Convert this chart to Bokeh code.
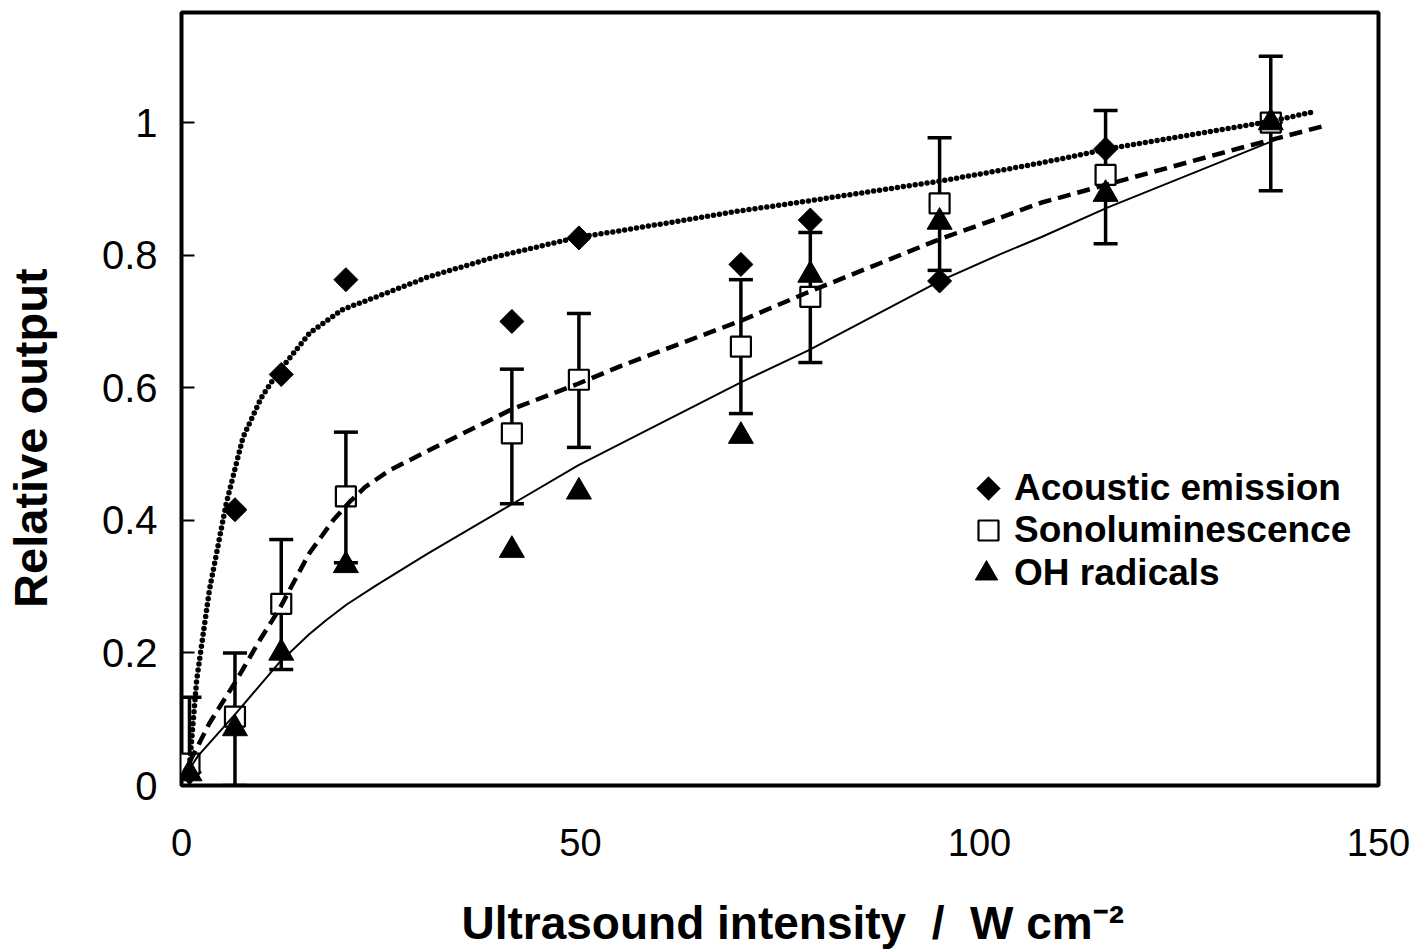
import math
from bokeh.plotting import figure
from bokeh.models import (Range1d, FixedTicker, Whisker, TeeHead, ColumnDataSource,
                          Legend, LegendItem, PolyAnnotation)
from bokeh.embed import file_html
from bokeh.resources import INLINE

# ---------------- data ----------------
intensity = [1.0, 6.7, 12.5, 20.6, 41.4, 49.8, 70.1, 78.8, 95.0, 115.8, 136.5]
acoustic = [0.02, 0.416, 0.62, 0.763, 0.700, 0.826, 0.786, 0.853, 0.761, 0.960, 1.000]
sonolum = [0.033, 0.104, 0.274, 0.436, 0.531, 0.612, 0.662, 0.737, 0.878, 0.921, 1.000]
sonolum_upper = [0.133, 0.200, 0.371, 0.533, 0.628, 0.712, 0.763, 0.834, 0.977, 1.018, 1.100]
sonolum_lower = [-0.02, 0.000, 0.175, 0.336, 0.425, 0.510, 0.561, 0.638, 0.777, 0.817, 0.897]
oh_radicals = [0.018, 0.086, 0.200, 0.332, 0.355, 0.443, 0.527, 0.770, 0.850, 0.892, 1.000]

# trend curves
ac_fit_x = [1.0, 1.9, 3.5, 5.6, 7.7, 10.0, 11.9, 16.1, 20.2, 24.4, 30.9, 39.2, 49.7,
            55.1, 70.1, 77.6, 95.2, 102.7, 107.7, 116.0, 136.6, 142.1]
ac_fit_y = [0.03, 0.159, 0.295, 0.425, 0.525, 0.585, 0.620, 0.683, 0.718, 0.737, 0.767,
            0.797, 0.827, 0.837, 0.867, 0.880, 0.912, 0.928, 0.939, 0.960, 1.002, 1.017]
so_fit_x = [1.0, 3.5, 6.9, 9.8, 12.3, 16.0, 19.0, 21.0, 23.0, 26.0, 30.9, 41.5, 49.7,
            55.1, 70.1, 78.5, 95.2, 102.7, 107.7, 116.1, 132.8, 142.9]
so_fit_y = [0.035, 0.094, 0.159, 0.219, 0.267, 0.350, 0.400, 0.427, 0.450, 0.475, 0.505,
            0.568, 0.606, 0.633, 0.701, 0.744, 0.825, 0.857, 0.879, 0.907, 0.962, 0.994]
oh_fit_x = [1.0, 2.1, 6.9, 12.3, 16.0, 18.2, 20.7, 24.4, 30.9, 41.5, 49.7, 55.1, 70.1,
            78.5, 95.2, 102.7, 107.7, 116.1, 137.1]
oh_fit_y = [0.025, 0.045, 0.110, 0.186, 0.228, 0.250, 0.273, 0.302, 0.350, 0.425, 0.483,
            0.516, 0.608, 0.656, 0.762, 0.802, 0.827, 0.872, 0.974]

x_ticks = [0, 50, 100, 150]
y_ticks = [0, 0.2, 0.4, 0.6, 0.8, 1]
y_tick_labels = ["0", "0.2", "0.4", "0.6", "0.8", "1"]

series_names = ["Acoustic emission", "Sonoluminescence", "OH radicals"]
NB = "\u00a0"
x_title = NB * 2 + "Ultrasound intensity" + NB * 2 + "/" + NB * 2 + "W cm\u207b\u00b2"
y_title = "Relative output" + NB * 6

FONT = "Liberation Sans"

# ---------------- figure ----------------
p = figure(width=1413, height=952, output_backend="svg", toolbar_location=None,
           x_range=Range1d(0, 150), y_range=Range1d(0, 1.166),
           min_border_left=180, min_border_right=35, min_border_top=12,
           min_border_bottom=167)
p.background_fill_color = "white"
p.border_fill_color = "white"
p.outline_line_color = "black"
p.outline_line_width = 4
p.xgrid.grid_line_color = None
p.ygrid.grid_line_color = None

# axes
p.xaxis.ticker = FixedTicker(ticks=x_ticks)
p.xaxis.axis_line_color = None
p.xaxis.major_tick_line_color = None
p.xaxis.minor_tick_line_color = None
p.xaxis.major_label_text_font = FONT
p.xaxis.major_label_text_font_size = "38px"
p.xaxis.major_label_text_color = "black"
p.xaxis.major_label_standoff = 37
p.xaxis.axis_label = x_title
p.xaxis.axis_label_text_font = FONT
p.xaxis.axis_label_text_font_size = "46px"
p.xaxis.axis_label_text_font_style = "bold"
p.xaxis.axis_label_text_color = "black"
p.xaxis.axis_label_standoff = 38

p.yaxis.ticker = FixedTicker(ticks=y_ticks)
p.yaxis.major_label_overrides = dict(zip(y_ticks, y_tick_labels))
p.yaxis.axis_line_color = None
p.yaxis.major_tick_in = 13
p.yaxis.major_tick_out = 0
p.yaxis.major_tick_line_width = 2
p.yaxis.major_tick_line_color = "black"
p.yaxis.minor_tick_line_color = None
p.yaxis.major_label_text_font = FONT
p.yaxis.major_label_text_font_size = "40px"
p.yaxis.major_label_text_color = "black"
p.yaxis.major_label_standoff = 24
p.yaxis.axis_label = y_title
p.yaxis.axis_label_text_font = FONT
p.yaxis.axis_label_text_font_size = "47px"
p.yaxis.axis_label_text_font_style = "bold"
p.yaxis.axis_label_text_color = "black"
p.yaxis.axis_label_standoff = 42

# error bars
err_src = ColumnDataSource(dict(x=intensity, upper=sonolum_upper, lower=sonolum_lower))
whisk = Whisker(base="x", upper="upper", lower="lower", source=err_src,
                dimension="height", line_width=3.5, line_color="black",
                upper_head=TeeHead(size=24, line_width=3.5, line_color="black"),
                lower_head=TeeHead(size=24, line_width=3.5, line_color="black"))
p.add_layout(whisk)

# markers
r_ac = p.scatter(intensity, acoustic, marker="square", angle=math.pi / 4, size=17,
                 fill_color="black", line_color="black", line_width=1)
r_so = p.scatter(intensity, sonolum, marker="square", size=20,
                 fill_color="white", line_color="black", line_width=2.2)
r_oh = p.scatter(intensity, oh_radicals, marker="triangle", size=25,
                 fill_color="black", line_color="black", line_width=1)

# trend curves
p.line(ac_fit_x, ac_fit_y, line_color="black", line_width=5.5, line_dash="0 6",
       line_cap="round", line_join="round")
p.line(so_fit_x, so_fit_y, line_color="black", line_width=4.5, line_dash="13 7",
       line_join="round")
p.line(oh_fit_x, oh_fit_y, line_color="black", line_width=2, line_join="round")

# legend: one Legend per row so each key keeps its own size
# (glyph_width, left edge in frame px, row centre in canvas px, standoff)
rows = [(r_ac, series_names[0], 2, 806, 488, 25),
        (r_so, series_names[1], 50, 782, 530, 1),
        (r_oh, series_names[2], 56, 777, 573, 0)]
for rend, name, gw, left, cy, standoff in rows:
    lg = Legend(items=[LegendItem(label=name, renderers=[rend])],
                location=(left, 785 - (cy + 30)),
                glyph_width=gw, glyph_height=60, label_height=60,
                label_standoff=standoff,
                padding=0, margin=0, spacing=0,
                border_line_color=None, background_fill_alpha=0,
                label_text_font=FONT, label_text_font_size="37px",
                label_text_font_style="bold", label_text_color="black")
    p.add_layout(lg)

# diamond key of the first legend row (Bokeh legend keys ignore marker angle)
p.add_layout(PolyAnnotation(xs=[807, 819, 807, 795], ys=[309, 297, 285, 297],
                            xs_units="screen", ys_units="screen",
                            fill_color="black", fill_alpha=1.0,
                            line_color="black", line_width=1))

open("out.html", "w").write(file_html(p, INLINE))
